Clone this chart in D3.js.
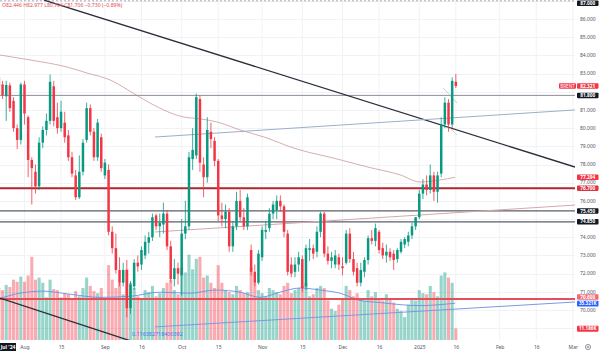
<!DOCTYPE html>
<html><head><meta charset="utf-8">
<script src="https://cdn.jsdelivr.net/npm/d3@7"></script>
<style>html,body{margin:0;padding:0;background:#fff;}svg{display:block;font-family:"Noto Sans",Roboto,sans-serif;}</style>
</head><body><svg id="c" width="600" height="356"></svg>
<script>
// ---- DATA ----
const barDates = ["2024-07-23","07-24","07-25","07-26","07-29","07-30","07-31",
"08-01","08-02","08-05","08-06","08-07","08-08","08-09","08-12","08-13","08-14","08-15","08-16","08-19","08-20","08-21","08-22","08-23","08-26","08-27","08-28","08-29","08-30",
"09-02","09-03","09-04","09-05","09-06","09-09","09-10","09-11","09-12","09-13","09-16","09-17","09-18","09-19","09-20","09-23","09-24","09-25","09-26","09-27","09-30",
"10-01","10-02","10-03","10-04","10-07","10-08","10-09","10-10","10-11","10-14","10-15","10-16","10-17","10-18","10-21","10-22","10-23","10-24","10-25","10-28","10-29","10-30","10-31",
"11-01","11-04","11-05","11-06","11-07","11-08","11-11","11-12","11-13","11-14","11-15","11-18","11-19","11-20","11-21","11-22","11-25","11-26","11-27","11-28","11-29",
"12-02","12-03","12-04","12-05","12-06","12-09","12-10","12-11","12-12","12-13","12-16","12-17","12-18","12-19","12-20","12-23","12-24","12-26","12-27","12-30","12-31",
"2025-01-02","01-03","01-06","01-07","01-08","01-09","01-10","01-13","01-14","01-15","01-16"];
const firstBarIndex = -7; // bar index of the first date (Aug 1 = 0)

const opens = [82.8,82.4,81.75,82.35,81.5,80.0,79.35,
82.4,80.6,78.25,77.6,76.8,79.2,79.9,80.4,82.3,80.6,80.0,80.3,79.6,78.4,77.4,76.2,77.6,79.35,81.1,79.8,78.4,79.5,
77.4,77.7,74.3,73.4,72.2,71.5,72.2,70.1,71.3,72.6,72.5,73.0,73.7,74.0,75.2,74.6,74.7,75.3,73.5,71.7,72.3,
71.9,74.2,74.6,78.3,78.5,81.6,78.0,77.3,79.8,79.3,78.2,75.2,75.0,75.4,73.5,74.6,76.0,75.1,74.6,73.3,72.1,71.5,72.9,
74.3,74.5,75.3,75.5,76.0,75.7,74.2,72.5,72.1,72.5,72.8,71.3,73.3,73.4,73.2,74.3,75.3,73.1,72.7,72.5,72.9,
72.4,72.6,74.2,72.8,72.3,71.5,72.1,72.75,73.95,73.8,74.3,73.4,73.0,73.2,73.1,72.8,73.2,73.6,73.75,74.1,74.6,
75.1,76.4,76.9,76.6,77.4,76.5,77.5,80.2,81.4,80.2,82.55];
const highs = [83.0,82.6,82.6,82.5,81.7,80.2,82.5,
82.6,80.7,78.4,78.0,79.5,80.1,80.8,82.95,82.6,81.4,81.5,80.9,79.9,78.7,77.7,78.5,79.4,81.4,81.3,80.0,80.5,79.7,
78.3,78.0,74.6,74.2,72.9,72.6,72.75,71.6,72.8,73.0,73.5,74.1,74.3,75.3,75.3,75.3,75.9,75.5,73.8,72.8,72.6,
75.0,76.0,78.7,80.0,81.9,81.8,78.4,80.6,80.3,79.5,78.3,75.9,75.8,75.6,74.9,76.5,76.6,75.6,76.4,73.6,72.5,73.3,74.6,
74.9,75.6,76.0,76.3,76.3,75.8,74.4,72.9,72.9,73.2,73.0,73.6,73.9,73.6,74.6,75.4,75.4,73.5,73.2,73.3,73.1,
72.9,74.4,74.5,73.2,72.6,72.6,72.9,74.1,74.4,74.75,74.4,73.7,73.6,73.4,73.3,73.4,73.9,74.0,74.3,74.8,75.1,
76.6,77.2,77.4,78.0,77.6,77.6,80.6,81.7,81.6,82.8,82.98];
const lows = [81.9,81.6,80.4,80.9,79.8,78.85,79.1,
80.2,77.3,75.8,76.4,76.6,78.9,79.6,80.2,80.1,79.7,79.8,79.2,78.2,77.3,76.05,76.1,77.4,79.2,79.6,78.2,78.2,77.6,
77.2,74.1,73.1,72.0,71.3,71.3,69.6,69.8,71.1,72.1,72.2,72.8,73.1,73.8,74.4,74.0,74.2,73.3,71.5,71.3,71.4,
70.8,73.9,74.4,77.7,78.3,77.6,76.2,77.0,78.9,77.9,74.9,74.6,74.5,73.2,73.2,74.4,74.9,74.4,74.4,71.9,71.3,71.4,72.7,
73.9,74.3,75.0,75.0,75.4,74.0,71.9,71.8,71.8,72.1,71.0,71.1,72.7,72.8,72.9,74.0,72.9,72.5,72.3,72.3,72.2,
71.9,72.5,72.6,71.9,71.3,71.3,71.8,72.5,73.6,73.5,73.1,72.8,72.6,72.7,72.2,72.6,73.1,73.4,73.5,73.9,74.4,
75.0,76.1,76.3,76.4,76.0,75.9,77.3,80.0,79.8,80.0,82.2];
const closes = [82.3,81.8,82.37,81.1,80.0,79.35,82.4,
80.8,78.25,77.8,76.8,79.2,79.9,80.4,82.55,80.4,80.0,80.9,79.5,78.4,77.5,76.2,77.6,79.2,81.1,79.8,78.4,80.3,77.8,
78.1,74.3,73.4,72.2,71.5,72.2,70.1,71.4,72.6,72.4,73.3,73.75,74.0,75.1,74.6,74.8,75.3,73.5,71.7,72.3,72.0,
74.2,74.6,78.4,78.8,81.7,78.1,77.3,79.9,79.4,78.2,75.2,75.0,75.4,73.5,74.6,76.0,75.1,74.6,76.2,72.1,71.5,73.1,74.4,
74.4,75.3,75.8,76.0,75.7,74.3,72.1,72.0,72.5,72.9,71.2,73.4,73.4,73.1,74.3,75.3,73.1,72.7,72.9,73.0,72.5,
72.3,74.2,72.8,72.1,71.5,72.2,72.75,73.95,73.8,74.5,73.3,73.0,73.2,72.9,72.75,73.3,73.75,73.9,74.1,74.6,75.1,
76.4,76.9,76.6,77.4,76.5,77.4,80.2,81.4,80.2,82.6,82.32];
const volumesK = [50,48,53,51,58,56,61,
56,62,80,58,60,55,41,58,49,48,41,45,44,40,47,42,50,60,52,47,45,50,
40,72,58,50,55,44,68,55,50,42,40,48,46,52,42,45,50,55,58,48,44,
70,65,82,68,78,80,60,62,55,50,72,55,48,46,44,52,48,45,46,70,55,48,45,
42,50,48,46,44,52,55,45,48,50,52,55,42,44,50,52,50,38,30,28,34,
40,52,48,42,45,40,38,48,42,46,40,38,44,40,36,30,28,22,34,40,38,
48,45,44,52,46,42,62,65,60,55,11.186];
// volume moving average, read at sample bars [barIndex, K]
const volMA = [[-6.7,40],[-1.23,45],[5.06,47],[12.45,44],[20.66,41],[28.86,42],[37.07,46],[45.28,45],[52.12,48],[58.96,46],[64.43,41],[69.9,46],[75.38,50],[80.85,48],[86.32,45],[91.79,38],[97.26,36],[102.74,34],[108.21,33],[113.68,34],[117.79,35.321]];
// long moving average of price, read at sample bars [barIndex, price]
const priceMA = [[-6.7,84.02],[1.5,83.75],[11.63,83.36],[17.1,83.03],[23.39,82.65],[29.69,81.93],[34.34,81.38],[43.37,80.62],[48.02,80.51],[52.67,80.34],[58.96,79.9],[66.35,79.46],[72.64,78.97],[75.38,78.8],[84.41,78.36],[93.71,77.87],[102.74,77.43],[108.21,77.04],[113.68,77.15],[117.79,77.294]];
// x-axis ticks (bar index, label)
const tickBars = [0,10,22,32,43,53,65,76,87,97,108,118,130,140,150];
const tickLabels = ["Aug","15","Sep","16","Oct","15","Nov","15","Dec","16","2025","16","Feb","16","Mar"];
const priceTicks = [86,85,84,83,81,80,79,78,77,76,74,73,72,71,70];
// drawn levels and trend lines
const hLevels = [{p:81.8,c:"#8c8f98",w:1},{p:76.7,c:"#b0262f",w:2},{p:75.45,c:"#5b5e68",w:1.3},{p:74.85,c:"#5b5e68",w:1.3},{p:70.6,c:"#e2505b",w:2}];
const trendLines = [
 {a:[5.34,87.04],b:[150.6,77.86],c:"#2a2e39",w:1.3},
 {a:[-6.7,70.66],b:[28.32,68.35],c:"#2a2e39",w:1.3,ext:true},
 {a:[35.7,79.51],b:[150.6,81.0],c:"#9bb0c9",w:1},
 {a:[35.7,74.29],b:[150.6,75.77],c:"#d4a8aa",w:1},
 {a:[35.7,69.07],b:[150.6,70.44],c:"#7d98e6",w:1},
 {a:[114.5,82.21],b:[118.33,81.38],c:"#b9bcc4",w:0.7},
 {a:[116.4,80.0],b:[118.33,79.62],c:"#b9bcc4",w:0.7}];
const priceBoxes = [
 {p:82.321,t:"82.321",bg:"#f23645"},
 {p:81.8,t:"81.800",bg:"#131722"},
 {p:77.294,t:"77.294",bg:"#f23645"},
 {p:76.7,t:"76.700",bg:"#e03340"},
 {p:75.45,t:"75.450",bg:"#131722"},
 {p:74.85,t:"74.850",bg:"#131722"},
 {p:70.72,t:"70.600",bg:"#f06b74"},
 {p:86.87,t:"87.000",bg:"#131722"}];
const volBoxes = [{v:35.321,t:"35.321K",bg:"#2962ff"},{v:11.186,t:"11.186K",bg:"#f23645"}];
const header = "O82.446 H82.977 L80.704 C81.706 \u22120.730 (\u22120.89%)";

// ---- CHART ----
const W=600,H=356,plotR=575,plotB=340;
const svg=d3.select("#c");
svg.append("rect").attr("width",W).attr("height",H).attr("fill","#fff");
const x=d3.scaleLinear().domain([-6.7,150.6]).range([0,plotR]);
const y=d3.scaleLinear().domain([70,86]).range([310,19]);
const yv=d3.scaleLinear().domain([0,100]).range([plotB,236]);
const bars=barDates.map((d,i)=>({d,i:i+firstBarIndex,o:opens[i],h:highs[i],l:lows[i],c:closes[i],v:volumesK[i]}));
svg.append("defs").append("clipPath").attr("id","pc").append("rect").attr("x",0).attr("y",0).attr("width",plotR).attr("height",plotB);
const g=svg.append("g").attr("clip-path","url(#pc)");
// grid
g.selectAll(".vg").data(tickBars).join("line").attr("x1",d=>x(d)).attr("x2",d=>x(d)).attr("y1",0).attr("y2",plotB).attr("stroke","#f0f2f6").attr("stroke-width",1);
g.selectAll(".hg").data(d3.range(69,88)).join("line").attr("x1",0).attr("x2",plotR).attr("y1",d=>Math.round(y(d))+0.5).attr("y2",d=>Math.round(y(d))+0.5).attr("stroke","#f0f2f6");
// top dotted line
g.append("line").attr("x1",0).attr("x2",plotR).attr("y1",y(87.0)).attr("y2",y(87.0)).attr("stroke","#9598a1").attr("stroke-dasharray","2,2").attr("stroke-width",0.8);
// volume bars
const bw=x(1)-x(0);
g.selectAll(".vb").data(bars).join("rect").attr("x",d=>x(d.i)-bw*0.42).attr("width",bw*0.84)
 .attr("y",d=>yv(d.v)).attr("height",d=>plotB-yv(d.v))
 .attr("fill",d=>d.c>=d.o?"rgba(8,153,129,0.42)":"rgba(242,54,69,0.42)");
// volume MA
g.append("path").datum(volMA).attr("d",d3.line().x(d=>x(d[0])).y(d=>yv(d[1])).curve(d3.curveMonotoneX)).attr("fill","none").attr("stroke","#6d8fe6").attr("stroke-width",0.9);
// horizontal levels
g.selectAll(".hl").data(hLevels).join("line").attr("x1",0).attr("x2",plotR).attr("y1",d=>y(d.p)).attr("y2",d=>y(d.p)).attr("stroke",d=>d.c).attr("stroke-width",d=>d.w);
// price MA
g.append("path").datum(priceMA).attr("d",d3.line().x(d=>x(d[0])).y(d=>y(d[1])).curve(d3.curveMonotoneX)).attr("fill","none").attr("stroke","rgba(190,120,120,0.6)").attr("stroke-width",1);
// trend lines
trendLines.forEach(t=>{
  let a=t.a,b=t.b;
  if(t.ext){const s=(b[1]-a[1])/(b[0]-a[0]);b=[a[0]+40,a[1]+s*40];}
  g.append("line").attr("x1",x(a[0])).attr("y1",y(a[1])).attr("x2",x(b[0])).attr("y2",y(b[1])).attr("stroke",t.c).attr("stroke-width",t.w);
});
// candles
const cw=bw*0.68;
const cg=g.selectAll(".cd").data(bars).join("g");
cg.append("line").attr("x1",d=>x(d.i)).attr("x2",d=>x(d.i)).attr("y1",d=>y(d.h)).attr("y2",d=>y(d.l))
 .attr("stroke",d=>d.c>=d.o?"#089981":"#f23645").attr("stroke-width",0.8);
cg.append("rect").attr("x",d=>x(d.i)-cw/2).attr("width",cw)
 .attr("y",d=>y(Math.max(d.o,d.c))).attr("height",d=>Math.max(0.8,Math.abs(y(d.o)-y(d.c))))
 .attr("fill",d=>d.c>=d.o?"#089981":"#f23645");
// trend line label
g.append("text").attr("x",x(29.4)).attr("y",y(68.55)).attr("font-size",5.4).attr("fill","#4a73e8").text("0.116382718400392");
// header
svg.append("text").attr("x",2).attr("y",7).attr("font-size",5.1).attr("fill","#e04b57").text(header);
// price axis labels
svg.selectAll(".pt").data(priceTicks).join("text").attr("x",580).attr("y",d=>y(d)+1.8).attr("font-size",5).attr("fill","#50535e").text(d=>d.toFixed(3));
// price boxes
const pb=svg.selectAll(".pb").data(priceBoxes).join("g");
pb.append("rect").attr("x",577).attr("y",d=>y(d.p)-2.75).attr("width",21.5).attr("height",5.5).attr("rx",0.8).attr("fill",d=>d.bg);
pb.append("text").attr("x",587.7).attr("y",d=>y(d.p)+1.7).attr("text-anchor","middle").attr("font-size",4.8).attr("font-weight","bold").attr("fill","#fff").text(d=>d.t);
// symbol tag
svg.append("rect").attr("x",559).attr("y",y(82.321)-2.75).attr("width",17).attr("height",5.5).attr("rx",0.8).attr("fill","#f23645");
svg.append("text").attr("x",567.5).attr("y",y(82.321)+1.7).attr("text-anchor","middle").attr("font-size",4.6).attr("fill","#fff").text("BRENT");
// volume boxes
const vbx=svg.selectAll(".vbx").data(volBoxes).join("g");
vbx.append("rect").attr("x",577).attr("y",d=>yv(d.v)-2.5).attr("width",21.5).attr("height",5.8).attr("rx",0.8).attr("fill",d=>d.bg);
vbx.append("text").attr("x",587.7).attr("y",d=>yv(d.v)+2).attr("text-anchor","middle").attr("font-size",4.6).attr("font-weight","bold").attr("fill","#fff").text(d=>d.t);
// x axis
const xa=d3.axisBottom(x).tickValues(tickBars).tickFormat((d,i)=>tickLabels[i]).tickSize(0).tickPadding(5);
const xg=svg.append("g").attr("transform",`translate(0,${plotB})`).call(xa);
xg.select(".domain").remove();
xg.selectAll("text").attr("font-size",5).attr("fill","#50535e").attr("font-family","'Noto Sans',sans-serif");
// Jul '24 tag
svg.append("rect").attr("x",0).attr("y",343).attr("width",16).attr("height",8).attr("fill","#131722");
svg.append("text").attr("x",8).attr("y",349).attr("text-anchor","middle").attr("font-size",5).attr("font-weight","bold").attr("fill","#fff").text("Jul '24");
// gear icon
svg.append("circle").attr("cx",588).attr("cy",347).attr("r",2.6).attr("fill","none").attr("stroke","#6a6d78").attr("stroke-width",0.7);
svg.append("circle").attr("cx",588).attr("cy",347).attr("r",0.9).attr("fill","none").attr("stroke","#6a6d78").attr("stroke-width",0.6);
</script></body></html>
